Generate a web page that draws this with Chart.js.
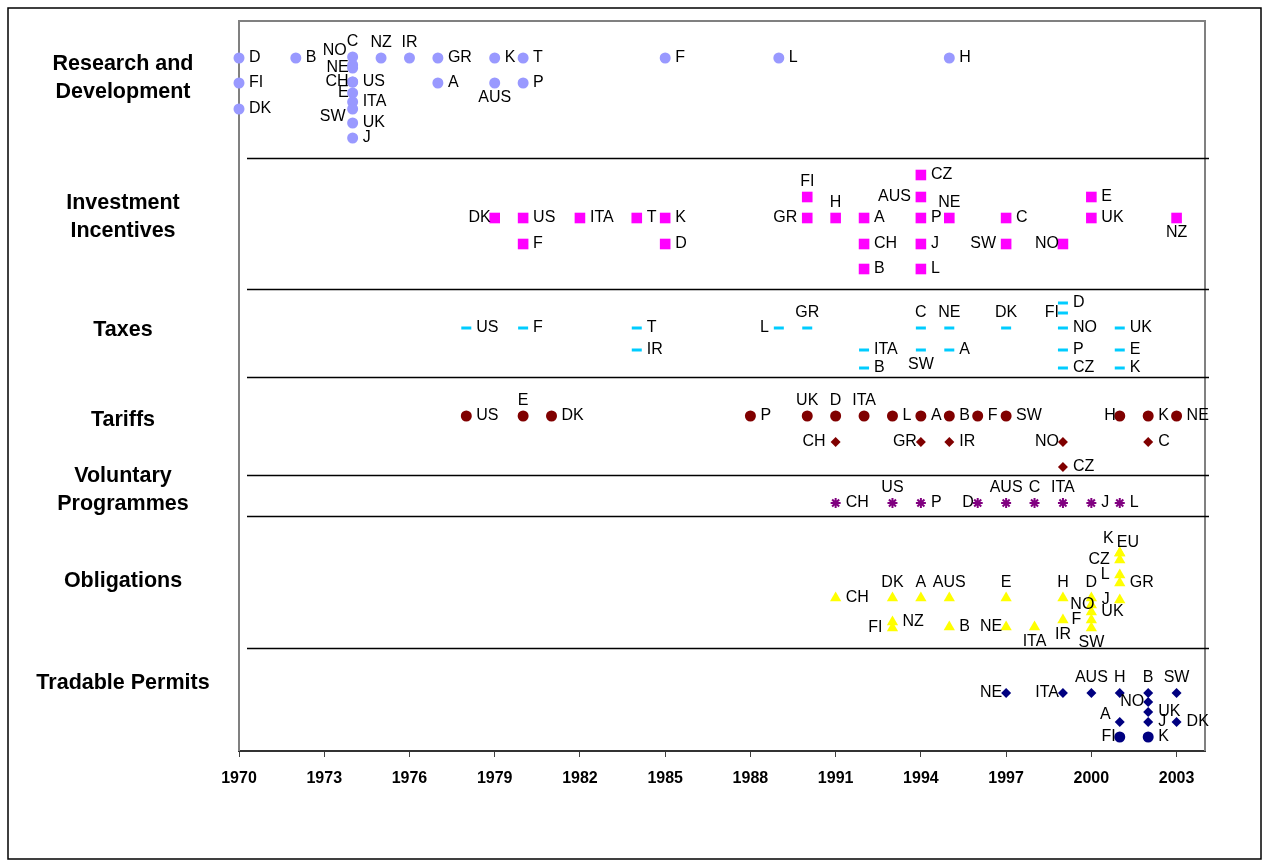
<!DOCTYPE html>
<html>
<head>
<meta charset="utf-8">
<title>Policy instruments timeline</title>
<script src="https://cdn.jsdelivr.net/npm/chart.js@4/dist/chart.umd.min.js"></script>
<style>
  html, body { margin: 0; padding: 0; background: #fff; }
</style>
</head>
<body>
<canvas id="chart" width="1269" height="867"></canvas>
<script>
// x axis ticks
const tickYears = [1970, 1973, 1976, 1979, 1982, 1985, 1988, 1991, 1994, 1997, 2000, 2003];

// row titles, top to bottom
const categories = ["Research and\nDevelopment", "Investment\nIncentives", "Taxes", "Tariffs",
  "Voluntary\nProgrammes", "Obligations", "Tradable Permits"];

// y values of the lines between the groups
const bandEdges = [59.3, 46.2, 37.4, 27.6, 23.5, 10.3];

// Research and Development
const rdYears = [1970, 1970, 1970, 1972, 1974, 1974, 1974, 1974, 1974, 1974, 1974, 1974, 1974, 1974, 1975, 1976, 1977, 1977, 1979, 1979, 1980, 1980, 1985, 1989, 1995];
const rdRows = [69.3, 66.8, 64.2, 69.3, 69.4, 68.6, 68.3, 66.9, 66.9, 65.8, 64.9, 64.2, 62.8, 61.3, 69.3, 69.3, 69.3, 66.8, 69.3, 66.8, 69.3, 66.8, 69.3, 69.3, 69.3];
const rdCodes = ["D", "FI", "DK", "B", "C", "NO", "NE", "CH", "US", "E", "ITA", "SW", "UK", "J", "NZ", "IR", "GR", "A", "K", "AUS", "T", "P", "F", "L", "H"];
const rdSide = ["r", "r", "r", "r", "t", "tl", "L", "L", "r", "L", "r", "bl", "r", "r", "t", "t", "r", "r", "r", "b", "r", "r", "r", "r", "r"];

// Investment Incentives
const invYears = [1979, 1980, 1980, 1982, 1984, 1985, 1985, 1990, 1990, 1991, 1992, 1992, 1992, 1994, 1994, 1994, 1994, 1994, 1995, 1997, 1997, 1999, 2000, 2000, 2003];
const invRows = [53.3, 53.3, 50.7, 53.3, 53.3, 53.3, 50.7, 53.3, 55.4, 53.3, 53.3, 50.7, 48.2, 57.6, 55.4, 53.3, 50.7, 48.2, 53.3, 53.3, 50.7, 50.7, 55.4, 53.3, 53.3];
const invCodes = ["DK", "US", "F", "ITA", "T", "K", "D", "GR", "FI", "H", "A", "CH", "B", "CZ", "AUS", "P", "J", "L", "NE", "C", "SW", "NO", "E", "UK", "NZ"];
const invSide = ["L", "r", "r", "r", "r", "r", "r", "l", "t", "t", "r", "r", "r", "r", "l", "r", "r", "r", "t", "r", "l", "L", "r", "r", "b"];

// Taxes
const taxYears = [1978, 1980, 1984, 1984, 1989, 1990, 1992, 1992, 1994, 1994, 1995, 1995, 1997, 1999, 1999, 1999, 1999, 1999, 2001, 2001, 2001];
const taxRows = [42.3, 42.3, 42.3, 40.1, 42.3, 42.3, 40.1, 38.3, 42.3, 40.1, 42.3, 40.1, 42.3, 44.8, 43.8, 42.3, 40.1, 38.3, 42.3, 40.1, 38.3];
const taxCodes = ["US", "F", "T", "IR", "L", "GR", "ITA", "B", "C", "SW", "NE", "A", "DK", "D", "FI", "NO", "P", "CZ", "UK", "E", "K"];
const taxSide = ["r", "r", "r", "r", "l", "t", "r", "r", "t", "b", "t", "r", "t", "r", "L", "r", "r", "r", "r", "r", "r"];

// Tariffs (circles and diamonds)
const tarYears = [1978, 1980, 1981, 1988, 1990, 1991, 1992, 1993, 1994, 1995, 1996, 1997, 2001, 2002, 2003];
const tarRows = [33.5, 33.5, 33.5, 33.5, 33.5, 33.5, 33.5, 33.5, 33.5, 33.5, 33.5, 33.5, 33.5, 33.5, 33.5];
const tarCodes = ["US", "E", "DK", "P", "UK", "D", "ITA", "L", "A", "B", "F", "SW", "H", "K", "NE"];
const tarSide = ["r", "t", "r", "r", "t", "t", "t", "r", "r", "r", "r", "r", "L", "r", "r"];

const tdYears = [1991, 1994, 1995, 1999, 1999, 2002];
const tdRows = [30.9, 30.9, 30.9, 30.9, 28.4, 30.9];
const tdCodes = ["CH", "GR", "IR", "NO", "CZ", "C"];
const tdSide = ["l", "L", "r", "L", "r", "r"];

// Voluntary Programmes
const volYears = [1991, 1993, 1994, 1996, 1997, 1998, 1999, 2000, 2001];
const volRows = [24.8, 24.8, 24.8, 24.8, 24.8, 24.8, 24.8, 24.8, 24.8];
const volCodes = ["CH", "US", "P", "D", "AUS", "C", "ITA", "J", "L"];
const volSide = ["r", "t", "r", "L", "t", "t", "t", "r", "r"];

// Obligations
const oblYears = [1991, 1993, 1993, 1993, 1994, 1995, 1995, 1997, 1997, 1998, 1999, 1999, 2000, 2000, 2000, 2000, 2000, 2001, 2001, 2001, 2001, 2001, 2001];
const oblRows = [15.3, 15.3, 12.3, 12.9, 15.3, 15.3, 12.4, 15.3, 12.4, 12.4, 15.3, 13.1, 15.3, 14.6, 13.9, 13.1, 12.3, 19.8, 19.8, 19.1, 17.6, 16.8, 15.1];
const oblCodes = ["CH", "DK", "FI", "NZ", "A", "AUS", "B", "E", "NE", "ITA", "H", "IR", "D", "NO", "UK", "F", "SW", "K", "EU", "CZ", "L", "GR", "J"];
const oblSide = ["r", "t", "l", "r", "t", "t", "r", "t", "L", "b", "t", "b", "t", "lo", "r", "l", "b", "tl", "tr", "l", "l", "r", "l"];

// Tradable Permits (diamonds and circles)
const tpYears = [1997, 1999, 2000, 2001, 2001, 2002, 2002, 2002, 2002, 2003, 2003];
const tpRows = [5.8, 5.8, 5.8, 5.8, 2.9, 5.8, 4.9, 3.9, 2.9, 5.8, 2.9];
const tpCodes = ["NE", "ITA", "AUS", "H", "A", "B", "NO", "UK", "J", "SW", "DK"];
const tpSide = ["L", "L", "t", "t", "ul", "t", "L", "r", "r", "t", "r"];

const tcYears = [2001, 2002];
const tcRows = [1.4, 1.4];
const tcCodes = ["FI", "K"];
const tcSide = ["L", "r"];

const mk = (years, rows) => years.map((x, i) => ({ x: x, y: rows[i] }));

const labelFont = '16px "Liberation Sans", Arial, sans-serif';
const offsets = {
  r: [10, 0, "left"], l: [-10, 0, "right"], L: [-4, 0, "right"], lo: [3, 0, "right"],
  t: [0, -15, "center"], b: [0, 15, "center"],
  tl: [-6, -14, "right"], bl: [-7, 8, "right"], tr: [-3, -10, "left"], ul: [-9, -7, "right"]
};

// background, frame, group lines, row titles
const frame = {
  id: "frame",
  beforeDraw(chart) {
    const ctx = chart.ctx;
    ctx.save();
    ctx.fillStyle = "#fff";
    ctx.fillRect(0, 0, chart.width, chart.height);
    ctx.strokeStyle = "#000";
    ctx.lineWidth = 1.5;
    ctx.strokeRect(8, 8, 1253, 851);
    ctx.restore();
  },
  beforeDatasetsDraw(chart) {
    const ctx = chart.ctx;
    const a = chart.chartArea;
    const y = chart.scales.y;
    ctx.save();
    ctx.strokeStyle = "#808080";
    ctx.lineWidth = 2;
    ctx.beginPath();
    ctx.moveTo(a.left, a.bottom);
    ctx.lineTo(a.left, a.top);
    ctx.lineTo(a.right, a.top);
    ctx.lineTo(a.right, a.bottom);
    ctx.stroke();
    ctx.strokeStyle = "#000";
    ctx.lineWidth = 1.5;
    bandEdges.forEach(v => {
      const py = Math.round(y.getPixelForValue(v)) + 0.5;
      ctx.beginPath();
      ctx.moveTo(a.left + 8, py);
      ctx.lineTo(a.right + 4, py);
      ctx.stroke();
    });
    // row titles
    const titleY = [78.5, 217.5, 330, 420, 490, 581, 683];
    ctx.fillStyle = "#000";
    ctx.font = 'bold 21.5px "Liberation Sans", Arial, sans-serif';
    ctx.textAlign = "center";
    ctx.textBaseline = "middle";
    categories.forEach((c, i) => {
      const lines = c.split("\n");
      lines.forEach((ln, k) => {
        ctx.fillText(ln, 123, titleY[i] + (k - (lines.length - 1) / 2) * 28);
      });
    });
    ctx.restore();
  },
  afterDatasetsDraw(chart) {
    const ctx = chart.ctx;
    ctx.save();
    ctx.fillStyle = "#000";
    ctx.font = labelFont;
    ctx.textBaseline = "middle";
    chart.data.datasets.forEach((ds, i) => {
      chart.getDatasetMeta(i).data.forEach((pt, j) => {
        const o = offsets[ds.sides[j]];
        ctx.textAlign = o[2];
        ctx.fillText(ds.codes[j], pt.x + o[0], pt.y + o[1]);
      });
    });
    ctx.restore();
  }
};

new Chart(document.getElementById("chart"), {
  type: "scatter",
  data: {
    datasets: [
      { data: mk(rdYears, rdRows), codes: rdCodes, sides: rdSide, pointStyle: "circle", pointRadius: 5.5,
        pointBackgroundColor: "#9999FF", pointBorderWidth: 0 },
      { data: mk(invYears, invRows), codes: invCodes, sides: invSide, pointStyle: "rect", pointRadius: 7.5,
        pointBackgroundColor: "#FF00FF", pointBorderWidth: 0 },
      { data: mk(taxYears, taxRows), codes: taxCodes, sides: taxSide, pointStyle: "line", pointRadius: 5,
        pointBorderColor: "#00CCFF", pointBorderWidth: 3 },
      { data: mk(tarYears, tarRows), codes: tarCodes, sides: tarSide, pointStyle: "circle", pointRadius: 5.5,
        pointBackgroundColor: "#800000", pointBorderWidth: 0 },
      { data: mk(tdYears, tdRows), codes: tdCodes, sides: tdSide, pointStyle: "rectRot", pointRadius: 5,
        pointBackgroundColor: "#800000", pointBorderWidth: 0 },
      { data: mk(volYears, volRows), codes: volCodes, sides: volSide, pointStyle: "star", pointRadius: 5,
        pointBorderColor: "#800080", pointBorderWidth: 2 },
      { data: mk(oblYears, oblRows), codes: oblCodes, sides: oblSide, pointStyle: "triangle", pointRadius: 6.5,
        pointBackgroundColor: "#FFFF00", pointBorderWidth: 0 },
      { data: mk(tpYears, tpRows), codes: tpCodes, sides: tpSide, pointStyle: "rectRot", pointRadius: 5,
        pointBackgroundColor: "#000080", pointBorderWidth: 0 },
      { data: mk(tcYears, tcRows), codes: tcCodes, sides: tcSide, pointStyle: "circle", pointRadius: 5.5,
        pointBackgroundColor: "#000080", pointBorderWidth: 0 }
    ]
  },
  options: {
    responsive: false,
    animation: false,
    events: [],
    clip: false,
    layout: { padding: { left: 239, top: 21, right: 64, bottom: 0 } },
    plugins: { legend: { display: false }, tooltip: { enabled: false } },
    scales: {
      x: {
        type: "linear",
        min: 1970,
        max: 2004,
        afterBuildTicks: s => { s.ticks = tickYears.map(v => ({ value: v })); },
        afterFit: s => { s.height = 116; },
        grid: { drawOnChartArea: false, drawTicks: true, tickLength: 6, color: "#404040", lineWidth: 1 },
        border: { display: true, color: "#333", width: 2 },
        ticks: {
          color: "#000",
          padding: 12,
          autoSkip: false,
          maxRotation: 0,
          font: { family: '"Liberation Sans", Arial', size: 16, weight: "bold" },
          callback: v => String(v)
        }
      },
      y: { display: false, min: 0, max: 73 }
    }
  },
  plugins: [frame]
});
</script>
</body>
</html>
